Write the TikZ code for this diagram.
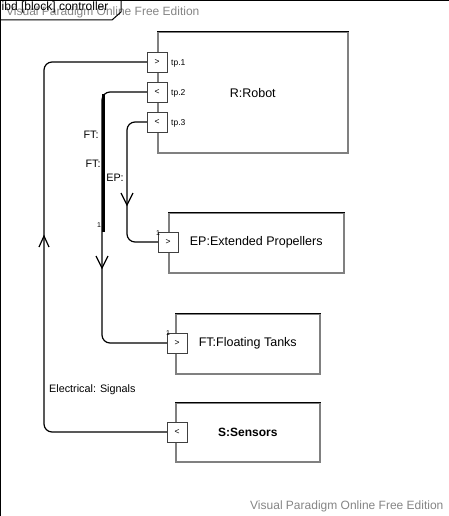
\documentclass[tikz,border=0pt]{standalone}
\usepackage{fontspec}
\setmainfont{Liberation Sans}
\begin{document}
\begin{tikzpicture}[x=1pt,y=-1pt,
  blk/.style={draw=black!50, line width=1.5pt, inner sep=0pt, anchor=north west, font=\fontsize{12.5}{14}\selectfont},
  prt/.style={draw=black!75, line width=0.8pt, fill=white, minimum size=20pt, inner sep=0pt, font=\fontsize{8.5}{9}\selectfont},
  conn/.style={draw=black, line width=1.2pt, rounded corners=8pt},
  chev/.style={draw=black, line width=1.2pt},
  lbl/.style={font=\fontsize{10.8}{12}\selectfont, inner sep=0pt},
  small/.style={font=\fontsize{8.5}{9}\selectfont, inner sep=0pt},
  tiny/.style={font=\fontsize{7}{8}\selectfont, inner sep=0pt},
  wm/.style={text=black!48, font=\fontsize{12}{14}\selectfont, inner sep=0pt, anchor=west}]
\useasboundingbox (0,0) rectangle (449,516);
% frame
\draw[line width=1pt] (0.5,516) -- (0.5,0.5) -- (449,0.5);
\node[wm] (wm1) at (6,12) {Visual Paradigm Online Free Edition};
\draw[line width=1pt] (0.5,20) -- (112,20) -- (121,12) -- (121,0.5);
\node[font=\fontsize{12}{14}\selectfont, inner sep=0pt, anchor=west] (title) at (1.5,7) {ibd [block] controller};
\node[wm] (wm2) at (250,506) {Visual Paradigm Online Free Edition};
% blocks
\node[blk, minimum width=190pt, minimum height=120pt] (r) at (157,32) {R:Robot};
\node[blk, minimum width=175pt, minimum height=60pt] (ep) at (168,212) {EP:Extended Propellers};
\node[blk, minimum width=144pt, minimum height=60pt] (ft) at (175,313) {FT:Floating Tanks};
\node[blk, minimum width=144pt, minimum height=59pt, font=\fontsize{12}{14}\selectfont\bfseries] (s) at (175,402) {S:Sensors};
\foreach \b in {r,ep,ft,s} \draw[black, line width=1pt] (\b.north west) -- (\b.north east);
% connectors
\coordinate (a1) at (44,62);
\coordinate (a2) at (44,432);
\coordinate (b1) at (102,92);
\coordinate (b2) at (102,343);
\coordinate (c1) at (127,122);
\coordinate (c2) at (127,242);
\draw[conn] (157,62) -- (a1) -- (a2) -- (177,432);
\draw[conn] (157,92) -- (b1) -- (b2) -- (177,343);
\draw[conn] (157,122) -- (c1) -- (c2) -- (168,242);
\draw[line width=3pt] (103,94) -- (103,232);
% ports
\node[prt] (p1) at (157,62) {>};
\node[prt] (p2) at (157,92) {<};
\node[prt] (p3) at (157,122) {<};
\node[prt] (pep) at (168,242) {>};
\node[prt] (pft) at (177,343) {>};
\node[prt] (ps) at (177,432) {<};
\node[small, anchor=west] (t1) at (171,63) {tp.1};
\node[small, anchor=west] (t2) at (171,93) {tp.2};
\node[small, anchor=west] (t3) at (171,123) {tp.3};
% chevrons
\draw[chev] (39,247) -- (44,236) -- (49,247);
\draw[chev] (121,193) -- (127,205) -- (133,193);
\draw[chev] (96,256) -- (102,268) -- (108,256);
% labels
\node[lbl] (l1) at (91,135) {FT:};
\node[lbl] (l2) at (93,164) {FT:};
\node[lbl] (l3) at (115,178) {EP:};
\node[tiny] (n1) at (99,225) {1};
\node[tiny] (n2) at (158,233) {1};
\node[tiny] (n3) at (168,333) {1};
\node[lbl, anchor=west] (es) at (49,390) {Electrical: Signals};
\end{tikzpicture}
\end{document}
